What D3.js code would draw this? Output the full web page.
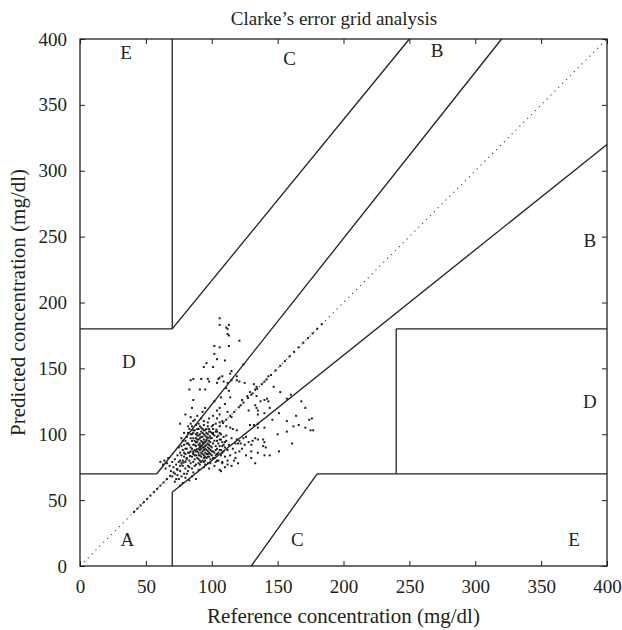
<!DOCTYPE html>
<html><head><meta charset="utf-8">
<script src="https://cdn.jsdelivr.net/npm/d3@7/dist/d3.min.js"></script>
<style>body{margin:0;background:#fff}</style>
</head><body>
<svg id="c" width="622" height="630"></svg>
<script>
// ---------- data ----------
const titleText = "Clarke\u2019s error grid analysis";
const xLabel = "Reference concentration (mg/dl)";
const yLabel = "Predicted concentration (mg/dl)";
const xTicks = [0, 50, 100, 150, 200, 250, 300, 350, 400];
const yTicks = [0, 50, 100, 150, 200, 250, 300, 350, 400];

const zoneLabels = ["E", "C", "B", "B", "D", "D", "A", "C", "E"];
const zoneLabelRef = [35, 159, 271, 387, 37, 387, 36, 165, 375];
const zoneLabelPred = [385, 380, 386, 242, 150, 120, 15, 15, 15];

// zone boundaries [refStart, predStart, refEnd, predEnd]
const boundaries = [
  [0, 70, 58.3, 70],
  [58.3, 70, 320, 400],
  [0, 180, 70, 180],
  [70, 180, 70, 400],
  [70, 180, 250, 400],
  [70, 0, 70, 56],
  [70, 56, 400, 320],
  [130, 0, 180, 70],
  [180, 70, 400, 70],
  [240, 70, 240, 180],
  [240, 180, 400, 180]
];

// points lying on the identity line
const diagonalValues = [41, 43.5, 46, 48.5, 51, 53.5, 56, 58.5, 61, 63.5, 66, 68.5, 71, 73.5, 76, 78.5, 81, 83.5,
  86, 88.5, 91, 93.5, 96, 98.5, 101, 103.5, 106, 108.5, 111, 114, 117, 120.5, 124, 127.5, 131, 134.5, 138,
  141.5, 145, 148.5, 152, 155.5, 159, 162.5, 166, 169.5, 173, 176.5, 180, 183.5];

// measured pairs [reference, predicted]
const measured = [
  [106,188],[106,183],[113,183],[111,181],[112,180],[112,176],[113,175],[121,171],[102,167],[106,166],[113,167],
  [102,161],[104,157],[110,156],[96,154],[101,151],[94,151],[115,148],[114,146],[108,144],[119,144],[86,142],
  [92,142],[97,142],[105,142],[124,153],[84,141],[98,140],[106,143],[109,140],[104,139],[112,139],[115,141],
  [83,134],[91,134],[95,134],[111,135],[113,133],[107,128],[114,128],[86,126],[102,125],[110,123],[85,120],
  [95,120],[104,118],[106,120],[112,117],[106,115],[92,112],[87,111],[104,112],[115,113],[80,115],[76,108],
  [82,106],[85,106],[90,108],[97,106],[101,107],[106,109],[111,106],[114,105],[116,104],[119,103],[86,103],
  [94,103],[99,102],[104,102],[77,97],[79,101],
  [119,141],[121,140],[125,139],[132,138],[134,136],[133,134],[143,144],[140,140],[129,132],[130,130],[127,129],
  [123,126],[134,129],[137,125],[140,126],[142,127],[143,125],[122,122],[133,122],[128,118],[134,120],[135,118],
  [144,120],[140,116],[135,115],[151,116],[157,127],[168,125],[171,120],[176,112],[174,111],[157,110],[164,114],
  [129,107],[132,107],[135,108],[135,105],[140,105],[162,106],[166,107],[171,105],[175,103],[177,103],[157,102],
  [119,96],[121,95],[124,97],[126,98],[128,94],[122,93],[125,92],[120,93],[130,92],[133,97],[135,96],[131,95],
  [139,96],[140,94],[139,91],[141,90],[161,93],[123,89],[121,87],[130,87],[135,86],[140,84],[144,84],[151,87],
  [130,82],[133,78],[147,136],[152,132],[160,130],[146,111],[150,100],[126,84],[118,86],
  [86,85],[87,88],[88,84],[88,91],[89,87],[89,94],[90,86],[90,89],[90,92],[90,96],[91,84],[91,88],[91,90],
  [91,93],[92,86],[92,89],[92,91],[92,95],[92,98],[93,85],[93,87],[93,90],[93,92],[93,94],[94,84],[94,88],
  [94,90],[94,93],[94,96],[95,86],[95,89],[95,91],[95,94],[95,99],[96,85],[96,88],[96,92],[96,95],[97,87],
  [97,90],[97,93],[97,97],[98,86],[98,89],[98,92],[98,95],[99,88],[99,91],[99,94],[87,95],[88,97],[86,92],
  [89,99],[91,100],[93,101],[96,101],[94,82],[97,83],[90,81],[87,81],
  [76,80],[77,84],[78,88],[78,76],[79,92],[80,79],[80,85],[81,82],[81,89],[82,76],[82,93],[83,80],[83,86],
  [84,90],[84,78],[84,97],[85,83],[85,100],[85,74],[86,79],[87,103],[88,77],[89,104],[90,78],[91,106],[92,79],
  [93,104],[94,107],[95,80],[96,104],[97,78],[98,102],[99,81],[100,84],[100,90],[100,97],[101,87],[101,93],
  [101,100],[102,82],[102,95],[103,88],[103,91],[104,85],[104,98],[105,80],[105,93],[106,88],[106,101],[107,84],
  [107,96],[108,91],[108,79],[109,87],[110,94],[110,83],[111,99],[112,88],[112,77],[113,92],[114,84],[115,97],
  [116,89],[117,80],[118,93],[110,75],[106,73],[102,76],[98,74],[94,75],[90,73],[86,71],[82,72],[79,70],
  [61,79],[63,77],[64,80],[65,74],[66,78],[67,82],[68,76],[69,72],[70,79],[71,75],[72,81],[72,70],[73,77],
  [74,73],[74,84],[75,79],[76,72],[77,68],[73,66],[70,68],[72,64],[75,66],[78,63],[80,67],[83,65],[85,68],
  [88,66],[76,61],[81,70],[74,69],[104,80],[108,78],[112,80],[115,76],[118,82],[120,78],[107,72],
  [80,95],[81,98],[82,101],[83,104],[84,108],[86,110],[88,107],[89,101],[90,104],[91,97],[92,102],[93,98],
  [94,100],[95,103],[96,98],[97,100],[98,104],[99,97],[100,101],[101,104],[102,99],[103,102],[104,95],[105,99],
  [106,96],[107,100],[108,94],[109,98],[110,90],[111,95],[80,89],[81,93],[82,86],[83,92],[84,87],[85,95],
  [86,97],[87,92],[88,100],[89,96],[85,89],[86,87],[87,84],[88,87],[89,82],[90,84],[91,80],[92,83],[93,80],
  [94,79],[95,83],[96,82],[97,85],[98,83],[99,85],[100,87],[101,82],[102,86],[103,84],[104,89],[105,86],
  [106,91],[107,88],[108,86],[109,92],[79,83],[78,80],[77,78],[79,86],[80,74],[83,75],[87,76],[91,77],
  [95,77],[99,78],[103,79],[76,86],[75,90],[78,95],[77,91],[84,100],[86,101],[88,94],[90,99],[92,105],
  [94,110],[97,109],[100,106],[103,108],[98,112],[89,114],[93,117],[101,114],[108,110],[84,113]
];

// ---------- drawing ----------
const L = 80, T = 39, R = 607, B = 566;
const ink = "#231f20";
const serif = "'Liberation Serif','Times New Roman',serif";
const x = d3.scaleLinear().domain([0, 400]).range([L, R]);
const y = d3.scaleLinear().domain([0, 400]).range([B, T]);
const svg = d3.select("#c");

// identity reference line (dotted)
svg.append("line")
  .attr("x1", x(0)).attr("y1", y(0)).attr("x2", x(400)).attr("y2", y(400))
  .attr("stroke", "#444").attr("stroke-width", 1.1).attr("stroke-dasharray", "1.2,4.3");

// zone boundaries
svg.append("g").selectAll("line").data(boundaries).join("line")
  .attr("x1", d => x(d[0])).attr("y1", d => y(d[1]))
  .attr("x2", d => x(d[2])).attr("y2", d => y(d[3]))
  .attr("stroke", ink).attr("stroke-width", 1.3);

// points on identity line
svg.append("g").selectAll("rect").data(diagonalValues).join("rect")
  .attr("x", d => x(d) - 1).attr("y", d => y(d) - 1)
  .attr("width", 2).attr("height", 2).attr("fill", ink);

// measured points
svg.append("g").selectAll("rect").data(measured).join("rect")
  .attr("x", d => x(d[0]) - 1).attr("y", d => y(d[1]) - 1)
  .attr("width", 2).attr("height", 2).attr("fill", ink);

// zone letters
svg.append("g").selectAll("text").data(zoneLabels).join("text")
  .attr("x", (d, i) => x(zoneLabelRef[i])).attr("y", (d, i) => y(zoneLabelPred[i]))
  .attr("text-anchor", "middle").attr("font-family", serif).attr("font-size", 19).attr("fill", ink)
  .text(d => d);

// axes
function styleAxis(g) {
  g.select(".domain").remove();
  g.selectAll(".tick line").attr("stroke", ink).attr("stroke-width", 1);
  g.selectAll(".tick text").attr("font-family", serif).attr("font-size", 19).attr("fill", ink);
}
svg.append("g").attr("transform", `translate(0,${B})`)
  .call(d3.axisBottom(x).tickValues(xTicks).tickSizeInner(-5).tickSizeOuter(0).tickPadding(13.5).tickFormat(d3.format("d")))
  .call(styleAxis);
svg.append("g").attr("transform", `translate(0,${T})`)
  .call(d3.axisTop(x).tickValues(xTicks).tickSizeInner(-5).tickSizeOuter(0).tickFormat(""))
  .call(styleAxis);
svg.append("g").attr("transform", `translate(${L},0)`)
  .call(d3.axisLeft(y).tickValues(yTicks).tickSizeInner(-5).tickSizeOuter(0).tickPadding(13).tickFormat(d3.format("d")))
  .call(styleAxis);
svg.append("g").attr("transform", `translate(${R},0)`)
  .call(d3.axisRight(y).tickValues(yTicks).tickSizeInner(-5).tickSizeOuter(0).tickFormat(""))
  .call(styleAxis);

// frame
svg.append("rect").attr("x", L).attr("y", T).attr("width", R - L).attr("height", B - T)
  .attr("fill", "none").attr("stroke", ink).attr("stroke-width", 1.3);

// titles
svg.append("text").attr("x", 334).attr("y", 25).attr("text-anchor", "middle")
  .attr("font-family", serif).attr("font-size", 19).attr("fill", ink).text(titleText);
svg.append("text").attr("x", (L + R) / 2).attr("y", 623).attr("text-anchor", "middle")
  .attr("font-family", serif).attr("font-size", 21).attr("fill", ink).text(xLabel);
svg.append("text").attr("transform", `translate(25,${(T + B) / 2}) rotate(-90)`).attr("text-anchor", "middle")
  .attr("font-family", serif).attr("font-size", 21).attr("fill", ink).text(yLabel);
</script>
</body></html>
